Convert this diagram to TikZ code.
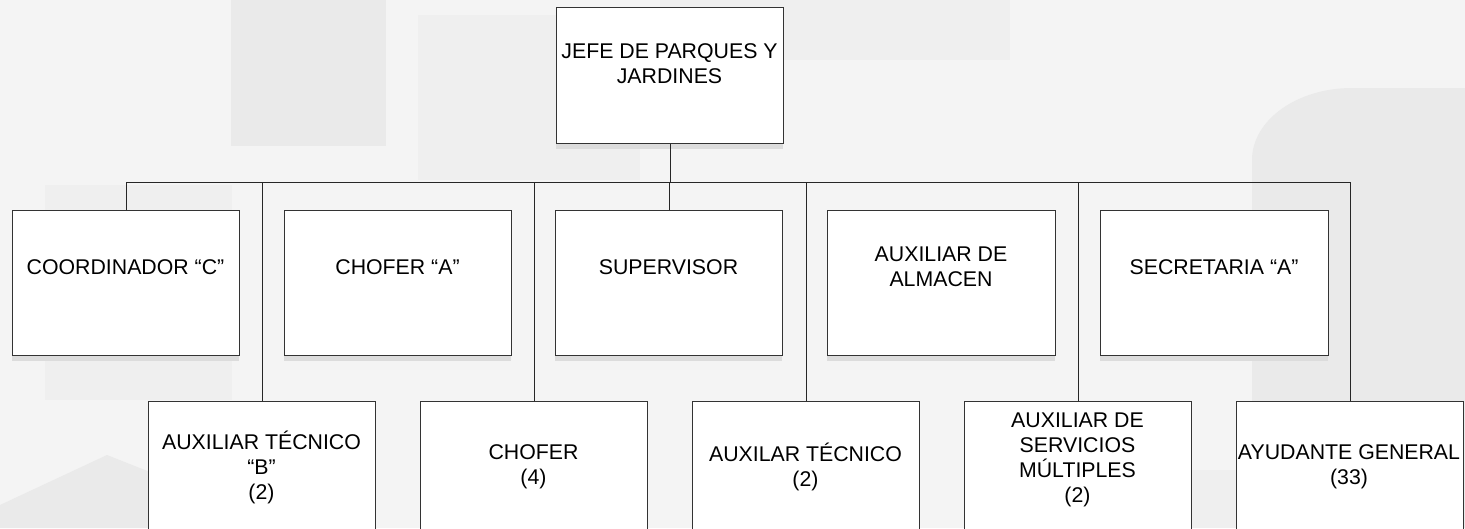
\documentclass[tikz,border=0pt]{standalone}
\usepackage{fontspec}
\setmainfont{Liberation Sans}
\definecolor{bgbase}{HTML}{F4F4F4}
\definecolor{bgdark}{HTML}{EAEAEA}
\definecolor{bgmid}{HTML}{EFEFEF}
\definecolor{shadowgray}{HTML}{DCDCDC}
\definecolor{boxline}{HTML}{333333}
\tikzset{
  orgbox/.style={draw=boxline, line width=1.3pt, fill=white, rectangle, inner sep=0pt, anchor=north west},
  boxshadow/.style={fill=shadowgray, draw=none},
  lbl/.style={align=center, inner sep=0pt, font=\fontsize{21.3}{25}\selectfont},
  conn/.style={draw=black!85, line width=0.9pt},
}
\begin{document}
\begin{tikzpicture}[x=1pt,y=-1pt]
\clip (0,0) rectangle (1465,528);
% background watermark
\fill[bgbase] (0,0) rectangle (1465,528);
\fill[bgmid] (45,185) rectangle (232,400);
\fill[bgdark] (231,0) rectangle (386,146);
\fill[bgmid] (418,15) rectangle (640,180);
\fill[bgmid] (660,0) rectangle (1010,60);
\fill[bgdark] (1252,528) -- (1252,160) arc[start angle=180, end angle=90, x radius=100, y radius=-72] -- (1465,88) -- (1465,528) -- cycle;
\fill[bgdark] (0,505) -- (107,455) -- (150,472) -- (150,528) -- (0,528) -- cycle;
\fill[bgmid] (1100,470) rectangle (1240,528);

% shadows
\foreach \x/\y/\w/\h in {556/7/227/136, 12/210/227/145, 284/210/227/145, 555/210/227/145, 827/210/228/145, 1100/210/228/145}
  \fill[boxshadow] (\x,\y+\h) rectangle (\x+\w,\y+\h+6);

% boxes
\node[orgbox, minimum width=227pt, minimum height=136pt] (top) at (556,7) {};
\node[orgbox, minimum width=227pt, minimum height=145pt] (coord) at (12,210) {};
\node[orgbox, minimum width=227pt, minimum height=145pt] (chofa) at (284,210) {};
\node[orgbox, minimum width=227pt, minimum height=145pt] (sup) at (555,210) {};
\node[orgbox, minimum width=228pt, minimum height=145pt] (alm) at (827,210) {};
\node[orgbox, minimum width=228pt, minimum height=145pt] (sec) at (1100,210) {};
\node[orgbox, minimum width=227pt, minimum height=150pt] (tecb) at (148,401) {};
\node[orgbox, minimum width=227pt, minimum height=150pt] (chof) at (420,401) {};
\node[orgbox, minimum width=227pt, minimum height=150pt] (tec) at (692,401) {};
\node[orgbox, minimum width=227pt, minimum height=150pt] (serv) at (964,401) {};
\node[orgbox, minimum width=227pt, minimum height=150pt] (ayud) at (1236,401) {};

% labels
\node[lbl] (ttop) at (669.5,64) {JEFE DE PARQUES Y\\JARDINES};
\node[lbl] (tcoord) at (125.5,267) {COORDINADOR “C”};
\node[lbl] (tchofa) at (397.5,267) {CHOFER “A”};
\node[lbl] (tsup) at (668.5,267) {SUPERVISOR};
\node[lbl] (talm) at (941,267) {AUXILIAR DE\\ALMACEN};
\node[lbl] (tsec) at (1214,267) {SECRETARIA “A”};
\node[lbl] (ttecb) at (261.5,467) {AUXILIAR TÉCNICO\\“B”\\(2)};
\node[lbl] (tchof) at (533.5,467) {CHOFER\\(4)};
\node[lbl] (ttec) at (805.5,467) {AUXILAR TÉCNICO\\(2)};
\node[lbl] (tserv) at (1077.5,460) {AUXILIAR DE\\SERVICIOS\\MÚLTIPLES\\(2)};
\node[lbl] (tayud) at (1349,467) {AYUDANTE GENERAL\\(33)};

% connectors
\coordinate (bus) at (0,182);
\draw[conn, line width=1.3pt] (top.south) -- (top.south |- bus);
\draw[conn] (coord.north |- bus) -- (ayud.north |- bus);
\draw[conn] (coord.north) -- (coord.north |- bus);
\draw[conn] (sup.north) -- (sup.north |- bus);
\draw[conn] (tecb.north) -- (tecb.north |- bus);
\draw[conn] (chof.north) -- (chof.north |- bus);
\draw[conn] (tec.north) -- (tec.north |- bus);
\draw[conn] (serv.north) -- (serv.north |- bus);
\draw[conn] (ayud.north) -- (ayud.north |- bus);
\end{tikzpicture}
\end{document}
